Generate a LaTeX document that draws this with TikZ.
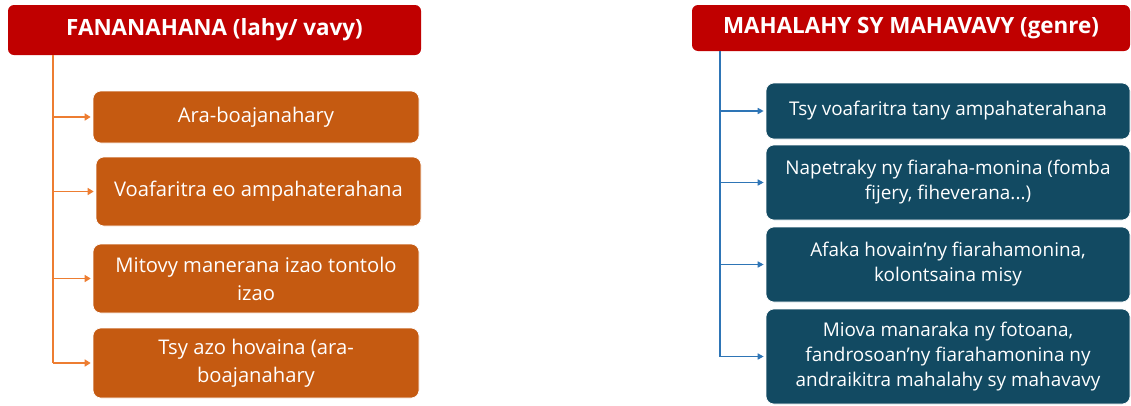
\documentclass[tikz,border=0pt]{standalone}
\usepackage{fontspec}
\setmainfont{Open Sans}
\usetikzlibrary{arrows.meta}
\definecolor{hdrred}{HTML}{C00000}
\definecolor{lbox}{HTML}{C55A11}
\definecolor{lline}{HTML}{ED7D31}
\definecolor{rbox}{HTML}{124A62}
\definecolor{rline}{HTML}{2E75B6}
\begin{document}
\begin{tikzpicture}[x=1pt,y=-1pt,
  hdr/.style={fill=hdrred,rounded corners=6pt,text=white,font=\fontsize{22.4}{26}\selectfont\bfseries,inner sep=0pt,align=center},
  lbx/.style={fill=lbox,draw=white,line width=0.6pt,rounded corners=8pt,text=white,font=\fontsize{20.2}{28}\selectfont,inner sep=0pt,align=center,minimum width=326pt},
  rbx/.style={fill=rbox,draw=white,line width=0.6pt,rounded corners=8pt,text=white,font=\fontsize{18.9}{25}\selectfont,inner sep=0pt,align=center,minimum width=364pt},
  larr/.style={draw=lline,line width=1.8pt,-{Triangle[length=6pt,width=7pt]}},
  rarr/.style={draw=rline,line width=1.6pt,-{Triangle[length=6pt,width=6pt]}}]
\useasboundingbox (0,0) rectangle (1131,405);
% left
\node[hdr,minimum width=413pt,minimum height=50pt] (hl) at (214.5,30) {FANANAHANA (lahy/ vavy)};
\node[lbx,minimum height=52pt] (b1) at (256,117) {Ara-boajanahary};
\node[lbx,minimum width=325pt,minimum height=69pt] (b2) at (258.5,191.5) {Voafaritra eo ampahaterahana};
\node[lbx,minimum height=69pt] (b3) at (256,278.5) {Mitovy manerana izao tontolo\\izao};
\node[lbx,minimum height=70pt] (b4) at (256,363) {Tsy azo hovaina (ara-\\boajanahary};
\coordinate (ltop) at (53,55);
\coordinate (lbot) at (53,363);
\draw[draw=lline,line width=1.8pt] (ltop) -- (lbot);
\foreach \b in {b1,b2,b3,b4}{\draw[larr] (ltop |- \b.west) -- ([xshift=-2pt]\b.west);}
% right
\node[hdr,minimum width=438pt,minimum height=46pt] (hr) at (911,28) {MAHALAHY SY MAHAVAVY (genre)};
\node[rbx,minimum height=56pt] (r1) at (948,111) {Tsy voafaritra tany ampahaterahana};
\node[rbx,minimum height=75pt] (r2) at (948,182.5) {Napetraky ny fiaraha-monina (fomba\\fijery, fiheverana...)};
\node[rbx,minimum height=75pt] (r3) at (948,264.5) {Afaka hovain’ny fiarahamonina,\\kolontsaina misy};
\node[rbx,minimum height=95pt] (r4) at (948,356.5) {Miova manaraka ny fotoana,\\fandrosoan’ny fiarahamonina ny\\andraikitra mahalahy sy mahavavy};
\coordinate (rtop) at (720,51);
\coordinate (rbot) at (720,357);
\draw[draw=rline,line width=1.6pt] (rtop) -- (rbot);
\foreach \b in {r1,r2,r3,r4}{\draw[rarr] (rtop |- \b.west) -- ([xshift=-2pt]\b.west);}
\end{tikzpicture}
\end{document}
